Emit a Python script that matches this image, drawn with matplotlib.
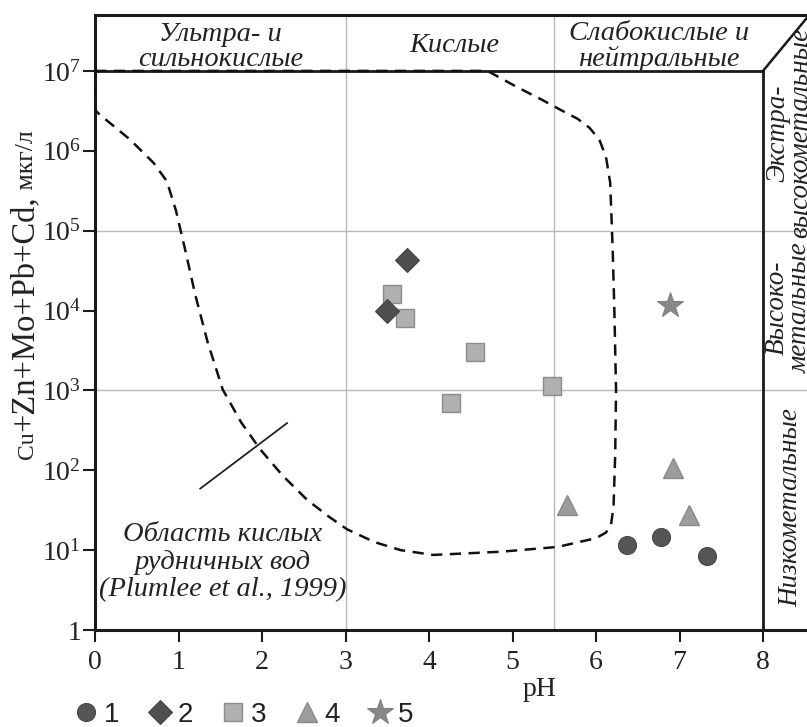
import numpy as np
import matplotlib
matplotlib.use("Agg")
import matplotlib.pyplot as plt
from matplotlib.ticker import FixedLocator, FixedFormatter, NullLocator

plt.rcParams["font.family"] = ["Liberation Serif", "DejaVu Serif"]
plt.rcParams["mathtext.fontset"] = "custom"
plt.rcParams["mathtext.rm"] = "Liberation Serif"
plt.rcParams["mathtext.it"] = "Liberation Serif:italic"

# --- samples: pH and total Cu+Zn+Mo+Pb+Cd, ug/L ---
ph_1 = [6.37, 6.78, 7.33]
metals_1 = [11.6, 14.6, 8.4]
ph_2 = [3.74, 3.50]
metals_2 = [43000, 9900]
ph_3 = [3.56, 3.71, 4.55, 5.47, 4.26]
metals_3 = [16100, 8070, 3030, 1140, 695]
ph_4 = [5.65, 6.92, 7.11]
metals_4 = [36.7, 107, 27.5]
ph_5 = [6.89]
metals_5 = [11700]

# --- outline of the acid mine drainage field (pH, log10 of concentration) ---
amd_ph = [0.0, 4.70, 5.05, 5.35, 5.58, 5.78, 5.92, 6.04, 6.12, 6.17, 6.20, 6.22,
          6.24, 6.23, 6.21, 6.18, 6.12, 6.00, 5.54, 4.86, 4.05, 3.66, 3.35, 3.02,
          2.80, 2.54, 2.25, 1.98, 1.75, 1.53, 1.35, 1.20, 1.08, 0.97, 0.86, 0.70,
          0.42, 0.06, 0.0, 0.0]
amd_log = [7.0, 7.0, 6.80, 6.64, 6.51, 6.40, 6.29, 6.14, 5.92, 5.60, 4.76, 4.00,
           3.00, 2.20, 1.54, 1.32, 1.22, 1.15, 1.04, 0.98, 0.94, 1.00, 1.10, 1.26,
           1.42, 1.63, 1.93, 2.26, 2.60, 3.01, 3.60, 4.20, 4.76, 5.25, 5.62, 5.85,
           6.14, 6.45, 6.51, 7.0]

x_ticks = [0, 1, 2, 3, 4, 5, 6, 7, 8]
y_ticks = [1, 1e1, 1e2, 1e3, 1e4, 1e5, 1e6, 1e7]
y_tick_labels = ["1", r"$10^{1}$", r"$10^{2}$", r"$10^{3}$", r"$10^{4}$",
                 r"$10^{5}$", r"$10^{6}$", r"$10^{7}$"]
legend_labels = ["1", "2", "3", "4", "5"]

W, H = 807, 727
fig = plt.figure(figsize=(W / 100, H / 100), dpi=100)
ax = fig.add_axes([95 / W, 97 / H, 712 / W, 615 / H])
ax.set_yscale("log")
ax.set_xlim(0, 712 / 83.5)
ax.set_ylim(1, 10 ** 7.70)

for side in ("left", "bottom", "top"):
    ax.spines[side].set_linewidth(2.2)
    ax.spines[side].set_color("#1a1a1a")
ax.spines["right"].set_visible(False)

ax.xaxis.set_major_locator(FixedLocator(x_ticks))
ax.yaxis.set_major_locator(FixedLocator(y_ticks))
ax.yaxis.set_major_formatter(FixedFormatter(y_tick_labels))
ax.yaxis.set_minor_locator(NullLocator())
ax.tick_params(axis="both", direction="out", width=1.5, colors="#1a1a1a",
               labelsize=20, labelcolor="#222222")
ax.tick_params(axis="x", length=8.5, pad=6)
ax.tick_params(axis="y", length=9, pad=1)

# light grid separating the classes
grid_kw = dict(color="#b8b8b8", lw=1.0, zorder=0)
ax.axvline(3, **grid_kw)
ax.axvline(5.5, **grid_kw)
ax.axhline(1e5, **grid_kw)
ax.axhline(1e3, **grid_kw)

# class frame lines
ax.plot([0, 8], [1e7, 1e7], color="#1a1a1a", lw=2.0, zorder=2)
ax.plot([8, 8], [1, 1e7], color="#1a1a1a", lw=2.0, zorder=2)
ax.plot([8, 8.57], [1e7, 10 ** 7.72], color="#1a1a1a", lw=1.8, zorder=2)

# acid mine drainage field
ax.plot(amd_ph, 10 ** np.array(amd_log), color="#111111", lw=1.8,
        ls=(0, (4.5, 3.0)), zorder=3)
ax.plot([1.26, 2.30], [10 ** 1.77, 10 ** 2.59], color="#222222", lw=1.3, zorder=3)

# samples
h1, = ax.plot(ph_1, metals_1, "o", ms=13, mfc="#555555", mec="#4a4a4a", mew=0.8, zorder=5)
h2, = ax.plot(ph_2, metals_2, "D", ms=12.5, mfc="#4f4f4f", mec="#444444", mew=0.8, zorder=5)
h3, = ax.plot(ph_3, metals_3, "s", ms=13.5, mfc="#b0b0b0", mec="#8c8c8c", mew=1.0, zorder=4)
h4, = ax.plot(ph_4, metals_4, "^", ms=15, mfc="#9c9c9c", mec="#8a8a8a", mew=1.0, zorder=5)
h5, = ax.plot(ph_5, metals_5, "*", ms=19, mfc="#888888", mec="#808080", mew=0.8, zorder=5)

it_kw = dict(style="italic", fontsize=20.5, color="#222222", ha="center", va="center")
ax.text(1.5, 10 ** 7.30, "Ультра- и\nсильнокислые", linespacing=1.0, **it_kw)
ax.text(4.3, 10 ** 7.32, "Кислые", **it_kw)
ax.text(6.75, 10 ** 7.31, "Слабокислые и\nнейтральные", linespacing=1.0, **it_kw)
ax.text(1.53, 10 ** 0.85, "Область кислых\nрудничных вод\n(Plumlee et al., 1999)",
        linespacing=1.12, **it_kw)

# labels of the concentration classes, rotated in the right-hand band
rot_kw = dict(style="italic", fontsize=19.5, color="#222222", ha="center", va="center",
              rotation=90, linespacing=0.9)
px_to_ph = lambda px: (px - 95) / 83.5
ax.text(px_to_ph(789), 10 ** 6.22, "Экстра-\nвысокометальные", **rot_kw)
ax.text(px_to_ph(789), 10 ** 4.03, "Высоко-\nметальные", **rot_kw)
ax.text(px_to_ph(791), 10 ** 1.53, "Низкометальные", **rot_kw)

fig.text(540 / W, 1 - 690 / H, "pH", fontsize=20, color="#222222",
         ha="center", va="center")

# y-axis title built from pieces of different size
pieces = [("Cu", 17), ("+Zn+Mo+Pb+Cd,", 23.5), (" мкг/л", 18.5)]
renderer = fig.canvas.get_renderer()
x_base = 33 / W
y_pos = 1 - 459 / H
for txt, size in pieces:
    t = fig.text(x_base, y_pos, txt, fontsize=size, color="#222222", rotation=90,
                 rotation_mode="anchor", ha="left", va="baseline")
    bb = t.get_window_extent(renderer)
    y_pos += bb.height / H

leg = fig.legend([h1, h2, h3, h4, h5], legend_labels, ncol=5, frameon=False,
                 loc="center left", bbox_to_anchor=(75 / W, 1 - 715 / H),
                 prop={"family": "Liberation Sans", "size": 20},
                 handlelength=0.8, handletextpad=0.25, columnspacing=1.04,
                 borderpad=0, borderaxespad=0, markerscale=1.0)
for t in leg.get_texts():
    t.set_color("#222222")

fig.savefig("out.png", dpi=100)
